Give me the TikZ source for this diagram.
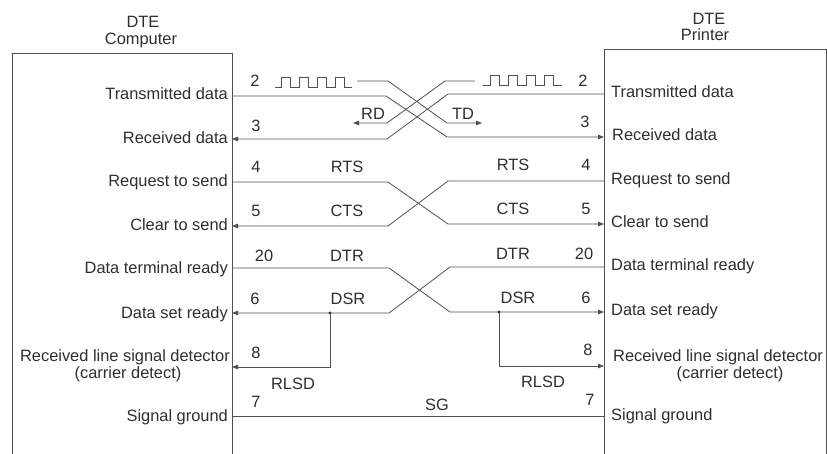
\documentclass[tikz,border=0pt]{standalone}
\usepackage{fontspec}
\setmainfont{Liberation Sans}
\usetikzlibrary{arrows.meta}
\definecolor{ink}{HTML}{2E2E2E}
\definecolor{wire}{HTML}{505050}
\begin{document}
\begin{tikzpicture}[x=1pt,y=-1pt,
  txt/.style={font=\fontsize{16.4}{18}\selectfont, text=ink, inner sep=0pt},
  lbl/.style={txt, anchor=base},
  lft/.style={txt, anchor=base east},
  rgt/.style={txt, anchor=base west},
  wireline/.style={draw=wire, line width=0.8pt},
  arr/.style={wireline, -{Triangle[length=6pt,width=4.5pt]}},
  boxline/.style={draw=wire, line width=0.9pt},
  dotn/.style={circle, fill=ink, inner sep=0pt, minimum size=3.2pt}
]
\useasboundingbox (0,0) rectangle (827,454);
% ---------- boxes ----------
\draw[boxline] (12,470) -- (12,53) -- (232,53) -- (232,470);
\draw[boxline] (826,470) -- (826,49) -- (604,49) -- (604,470);
% ---------- titles ----------
\node[lbl] (dteL) at (143,28) {DTE};
\node[lbl] (compL) at (141,44.5) {Computer};
\node[lbl] (dteR) at (709,24.5) {DTE};
\node[lbl] (prnR) at (705,41) {Printer};
% ---------- left labels ----------
\node[lft] (tdL) at (228,100) {Transmitted data};
\node[lft] (rdL) at (228,144) {Received data};
\node[lft] (rtsL) at (228,187) {Request to send};
\node[lft] (ctsL) at (228,231) {Clear to send};
\node[lft] (dtrL) at (228,273) {Data terminal ready};
\node[lft] (dsrL) at (228,318) {Data set ready};
\node[lft] (rlsdL) at (230,361) {Received line signal detector};
\node[lbl] (cdL) at (128,378) {(carrier detect)};
\node[lft] (sgL) at (228,421) {Signal ground};
% ---------- right labels ----------
\node[rgt] (tdR) at (611,98) {Transmitted data};
\node[rgt] (rdR) at (612,141) {Received data};
\node[rgt] (rtsR) at (611,185) {Request to send};
\node[rgt] (ctsR) at (611,228) {Clear to send};
\node[rgt] (dtrR) at (611,271) {Data terminal ready};
\node[rgt] (dsrR) at (611,316) {Data set ready};
\node[rgt] (rlsdR) at (613,361) {Received line signal detector};
\node[lbl] (cdR) at (730,378) {(carrier detect)};
\node[rgt] (sgR) at (611,420) {Signal ground};
% ---------- pin numbers and signal names (left) ----------
\node[lbl] (n2L) at (255,87) {2};
\node[lbl] (n3L) at (256,132) {3};
\node[lbl] (n4L) at (256,173) {4};
\node[lbl] (n5L) at (256,217) {5};
\node[lbl] (n20L) at (264,262) {20};
\node[lbl] (n6L) at (255,305) {6};
\node[lbl] (n8L) at (256,358) {8};
\node[lbl] (n7L) at (256,407) {7};
\node[lbl] (rtsTL) at (347,173) {RTS};
\node[lbl] (ctsTL) at (347,217) {CTS};
\node[lbl] (dtrTL) at (347,262) {DTR};
\node[lbl] (dsrTL) at (348,305) {DSR};
\node[lbl] (rlsdTL) at (293,389) {RLSD};
\node[lbl] (rdT) at (373,120) {RD};
% ---------- pin numbers and signal names (right) ----------
\node[lbl] (n2R) at (583,87) {2};
\node[lbl] (n3R) at (585,128) {3};
\node[lbl] (n4R) at (586,171) {4};
\node[lbl] (n5R) at (586,215) {5};
\node[lbl] (n20R) at (584,260) {20};
\node[lbl] (n6R) at (586,303) {6};
\node[lbl] (n8R) at (588,355) {8};
\node[lbl] (n7R) at (590,405) {7};
\node[lbl] (rtsTR) at (513,171) {RTS};
\node[lbl] (ctsTR) at (513,215) {CTS};
\node[lbl] (dtrTR) at (513,260) {DTR};
\node[lbl] (dsrTR) at (518,303) {DSR};
\node[lbl] (rlsdTR) at (543,387) {RLSD};
\node[lbl] (tdT) at (463,120) {TD};
\node[lbl] (sgT) at (437,410) {SG};
% ---------- waveforms ----------
\draw[wireline] (275,87) -- (281,87) -- (281,77) -- (290,77) -- (290,87)
  -- (299,87) -- (299,77) -- (308,77) -- (308,87)
  -- (317,87) -- (317,77) -- (326,77) -- (326,87)
  -- (335,87) -- (335,77) -- (344,77) -- (344,87) -- (352,87);
\draw[wireline] (483,85) -- (490,85) -- (490,75) -- (499,75) -- (499,85)
  -- (508,85) -- (508,75) -- (517,75) -- (517,85)
  -- (526,85) -- (526,75) -- (535,75) -- (535,85)
  -- (544,85) -- (544,75) -- (553,75) -- (553,85) -- (562,85);
% ---------- TX / RX crossing ----------
\coordinate (w1a) at (357,81);  \coordinate (w1b) at (388,81);
\coordinate (w1c) at (447,123); \coordinate (w1d) at (482,123);
\draw[arr] (w1a) -- (w1b) -- (w1c) -- (w1d);
\coordinate (w2a) at (475,81);  \coordinate (w2b) at (445,81);
\coordinate (w2c) at (387,123); \coordinate (w2d) at (353,123);
\draw[arr] (w2a) -- (w2b) -- (w2c) -- (w2d);
\coordinate (pTxL) at (232,96);  \coordinate (b1) at (386,96);
\coordinate (b2) at (447,137);   \coordinate (pRxR) at (604,137);
\draw[arr] (pTxL) -- (b1) -- (b2) -- (pRxR);
\coordinate (pTxR) at (604,94);  \coordinate (b3) at (448,94);
\coordinate (b4) at (387,139);   \coordinate (pRxL) at (232,139);
\draw[arr] (pTxR) -- (b3) -- (b4) -- (pRxL);
% ---------- RTS / CTS crossing ----------
\coordinate (pRtsL) at (232,182); \coordinate (c1) at (388,182);
\coordinate (c2) at (448,224);    \coordinate (pCtsR) at (604,224);
\draw[arr] (pRtsL) -- (c1) -- (c2) -- (pCtsR);
\coordinate (pRtsR) at (604,181); \coordinate (c3) at (448,181);
\coordinate (c4) at (388,226);    \coordinate (pCtsL) at (232,226);
\draw[arr] (pRtsR) -- (c3) -- (c4) -- (pCtsL);
% ---------- DTR / DSR crossing ----------
\coordinate (pDtrL) at (232,268); \coordinate (d1) at (389,268);
\coordinate (d2) at (450,312);    \coordinate (pDsrR) at (604,312);
\draw[arr] (pDtrL) -- (d1) -- (d2) -- (pDsrR);
\coordinate (pDtrR) at (604,267); \coordinate (d3) at (450,267);
\coordinate (d4) at (389,313);    \coordinate (pDsrL) at (232,313);
\draw[arr] (pDtrR) -- (d3) -- (d4) -- (pDsrL);
% ---------- RLSD branches ----------
\node[dotn] (jL) at (330,313) {};
\node[dotn] (jR) at (499,312) {};
\coordinate (eL) at (330,367); \coordinate (pRlsdL) at (232,367);
\coordinate (eR) at (499,366); \coordinate (pRlsdR) at (604,366);
\draw[arr] (jL.center) -- (eL) -- (pRlsdL);
\draw[arr] (jR.center) -- (eR) -- (pRlsdR);
% ---------- signal ground ----------
\coordinate (pSgL) at (232,416); \coordinate (pSgR) at (604,416);
\draw[wireline] (pSgL) -- (pSgR);
\end{tikzpicture}
\end{document}
